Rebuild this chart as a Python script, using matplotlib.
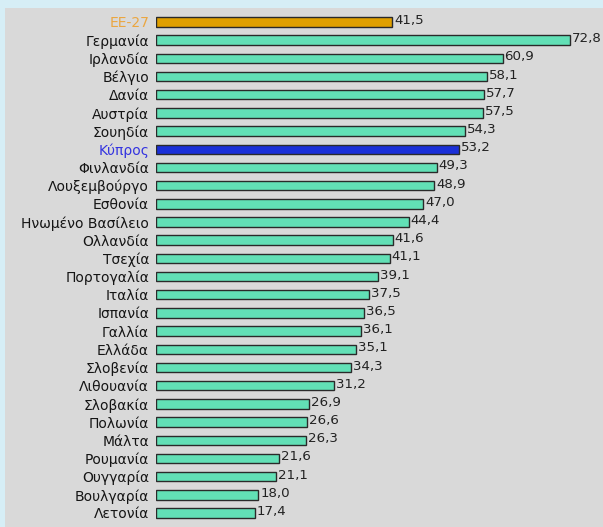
import matplotlib.pyplot as plt
import matplotlib.patches as mpatches
import numpy as np

countries = ["ΕΕ-27", "Γερμανία", "Ιρλανδία", "Βέλγιο", "Δανία", "Αυστρία", "Σουηδία",
             "Κύπρος", "Φινλανδία", "Λουξεμβούργο", "Εσθονία", "Ηνωμένο Βασίλειο",
             "Ολλανδία", "Τσεχία", "Πορτογαλία", "Ιταλία", "Ισπανία", "Γαλλία",
             "Ελλάδα", "Σλοβενία", "Λιθουανία", "Σλοβακία", "Πολωνία", "Μάλτα",
             "Ρουμανία", "Ουγγαρία", "Βουλγαρία", "Λετονία"]
values = [41.5, 72.8, 60.9, 58.1, 57.7, 57.5, 54.3, 53.2, 49.3, 48.9, 47.0, 44.4,
          41.6, 41.1, 39.1, 37.5, 36.5, 36.1, 35.1, 34.3, 31.2, 26.9, 26.6, 26.3,
          21.6, 21.1, 18.0, 17.4]

teal = "#62e0b6"
special = {"ΕΕ-27": ("#e0a000", "#eba640"), "Κύπρος": ("#1a2fd8", "#3434e0")}

fig = plt.figure(figsize=(6.03, 5.27), dpi=100, facecolor="#d6eef6")
# grey panel
fig.patches.append(mpatches.Rectangle((5 / 603, 0), 1, 1 - 8 / 527,
                                      transform=fig.transFigure,
                                      facecolor="#d9d9d9", edgecolor="none", zorder=-1))

ax = fig.add_axes([156 / 603, 4 / 527, (603 - 156) / 603, (527 - 15) / 527])
ax.set_facecolor("none")
ax.set_zorder(1)

y = np.arange(len(countries))
colors = [special.get(c, (teal,))[0] for c in countries]
ax.barh(y, values, height=0.52, color=colors, edgecolor="#2a2a2a", linewidth=1.0)

for yi, v in zip(y, values):
    ax.text(v + 0.35, yi - 0.08, f"{v:.1f}".replace(".", ","), va="center", ha="left",
            fontsize=9.6, color="#222222")

ax.set_yticks(y)
ax.set_yticklabels(countries, fontsize=10)
for lbl, c in zip(ax.get_yticklabels(), countries):
    if c in special:
        lbl.set_color(special[c][1])
    else:
        lbl.set_color("#151515")
ax.tick_params(axis="y", length=0, pad=5)
ax.set_xticks([])
ax.set_xlim(0, (603 - 156) / 5.69)
ax.set_ylim(len(countries) - 0.45, -0.6)
for s in ax.spines.values():
    s.set_visible(False)

fig.savefig("out.png", dpi=100, facecolor=fig.get_facecolor())
